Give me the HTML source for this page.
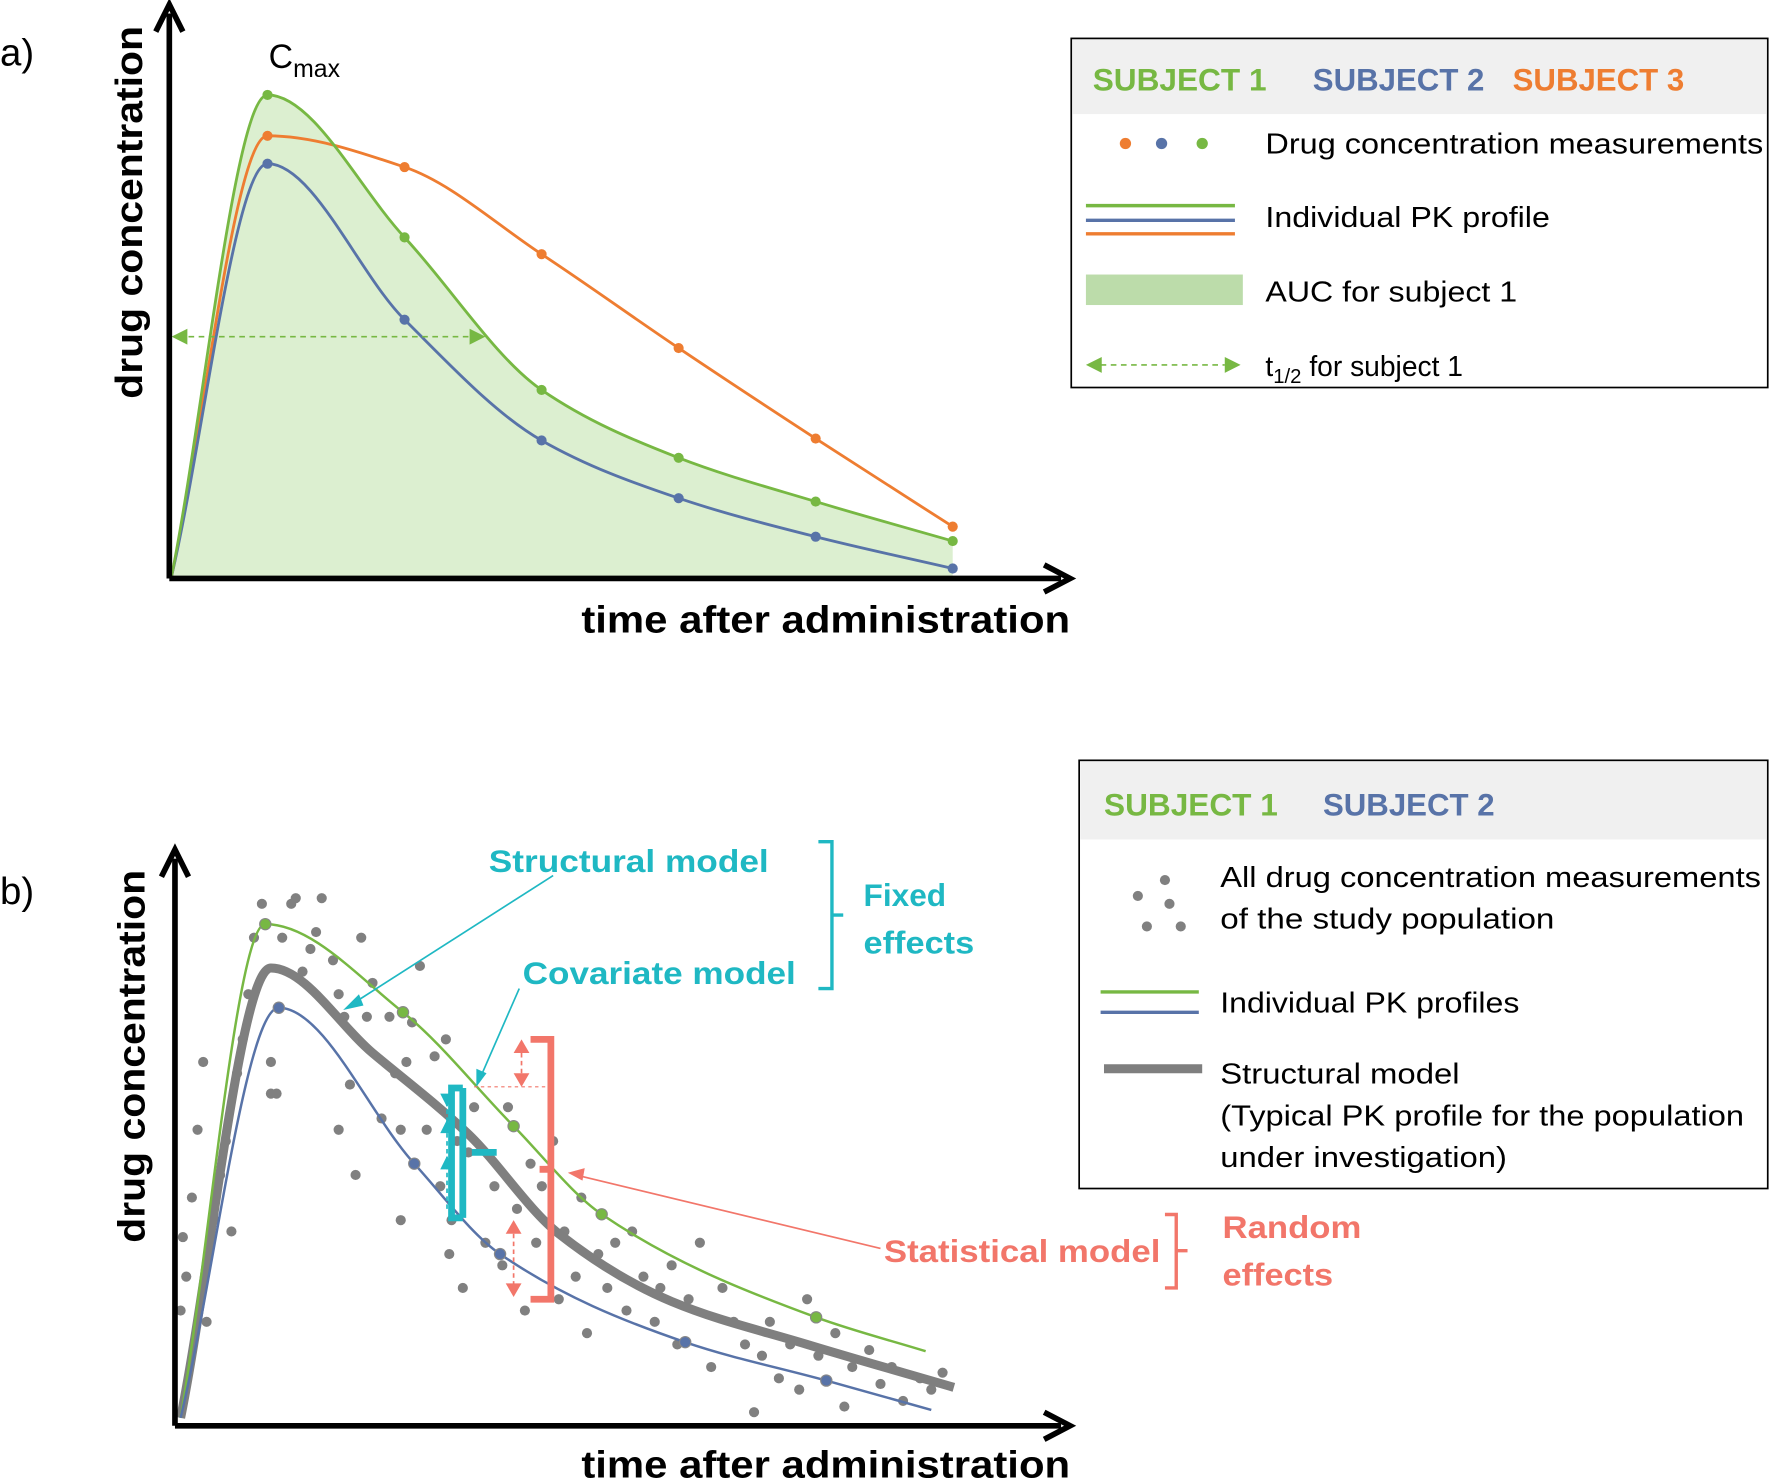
<!DOCTYPE html>
<html><head><meta charset="utf-8">
<style>
html,body{margin:0;padding:0;background:#fff;}
svg{display:block;}
text{font-family:"Liberation Sans",sans-serif;}
</style></head>
<body>
<svg id="fig" width="1770" height="1480" viewBox="0 0 1568 1310" preserveAspectRatio="none" xmlns="http://www.w3.org/2000/svg">
<g id="pa"></g>
<g id="pb"></g>
</svg>
<script>
// ---------- Panel a data ----------
const timesA = [0, 0.7, 1.7, 2.7, 3.7, 4.7, 5.7];
const subj1A = [0, 100, 70.4, 38.7, 24.6, 15.5, 7.3];
const subj2A = [0, 85.7, 53.3, 28.2, 16.2, 8.2, 1.6];
const subj3A = [0, 91.5, 85, 66.9, 47.4, 28.6, 10.3];
// ---------- Panel b data ----------
const subj1B = [[0.05,1.25],[0.8,110.5],[2.02,91],[3.0,65.8],[3.78,46.3],[5.68,23.5],[6.65,16]];
const subj2B = [[0.05,1.25],[0.92,92],[2.12,57.5],[2.88,37.5],[4.52,18],[5.77,9.5],[6.7,3]];
const typicalB = [[0.05,1.25],[0.85,100.8],[1.75,82],[2.6,64],[3.4,42],[4.4,27],[5.6,17.5],[6.9,8]];
const scatterB = [[160,1160],[165,1130],[162,1095],[170,1060],[175,1000],[180,940],[183,1170],[190,1080],[195,1040],[200,1010],[205,1090],[210,950],[215,920],[220,880],[225,830],[232,800],[240,940],[245,968],[250,830],[258,800],[262,795],[268,860],[275,840],[280,825],[285,795],[295,850],[300,880],[305,900],[310,960],[315,1040],[320,830],[325,900],[330,870],[338,990],[345,900],[350,950],[355,1000],[360,940],[365,905],[372,855],[378,1000],[385,935],[390,1050],[395,920],[400,1080],[405,1010],[410,1140],[415,1020],[420,980],[430,1100],[438,1050],[445,1120],[450,980],[458,1070],[465,1160],[470,1030],[475,1100],[480,1050],[490,1010],[495,1150],[500,1090],[510,1130],[515,1060],[520,1180],[530,1110],[538,1140],[545,1100],[555,1160],[560,1090],[570,1130],[580,1170],[585,1140],[595,1120],[600,1190],[610,1150],[620,1100],[630,1210],[640,1140],[650,1170],[660,1190],[668,1250],[675,1200],[682,1170],[690,1220],[700,1190],[708,1230],[715,1150],[725,1200],[740,1180],[748,1245],[755,1210],[770,1195],[780,1225],[790,1210],[800,1240],[815,1220],[825,1230],[835,1215],[240,968],[300,1000],[355,1080],[398,1110]];

const G='#77b843', B='#5873a8', O='#ee7d31', GR='#7f7f7f', CY='#1fb8c3', SA='#f2766a';
const NS='http://www.w3.org/2000/svg';
function el(p,tag,a,txt){const e=document.createElementNS(NS,tag);for(const k in a)e.setAttribute(k,a[k]);if(txt!==undefined)e.textContent=txt;p.appendChild(e);return e;}
const xA=t=>152+t*121.4, yA=c=>510-c*4.26;
const xB=t=>155+t*100, yB=c=>1260-c*4;
// monotone cubic interpolation (Fritsch-Carlson)
function smooth(pts){
  const n=pts.length, d=[], m=[];
  for(let i=0;i<n-1;i++) d.push((pts[i+1][1]-pts[i][1])/(pts[i+1][0]-pts[i][0]));
  m[0]=d[0]; m[n-1]=d[n-2];
  for(let i=1;i<n-1;i++){ if(d[i-1]*d[i]<=0) m[i]=0; else { const h0=pts[i][0]-pts[i-1][0],h1=pts[i+1][0]-pts[i][0]; const w1=2*h1+h0,w2=h1+2*h0; m[i]=(w1+w2)/(w1/d[i-1]+w2/d[i]); } }
  let s='M'+pts[0][0]+','+pts[0][1];
  for(let i=0;i<n-1;i++){const h=pts[i+1][0]-pts[i][0];
    s+=` C${pts[i][0]+h/3},${pts[i][1]+m[i]*h/3} ${pts[i+1][0]-h/3},${pts[i+1][1]-m[i+1]*h/3} ${pts[i+1][0]},${pts[i+1][1]}`;}
  return s;
}

const pa=document.getElementById('pa'), pb=document.getElementById('pb');
// Panel a
const g1=timesA.map((t,i)=>[xA(t),yA(subj1A[i])]);
const b1=timesA.map((t,i)=>[xA(t),yA(subj2A[i])]);
const o1=timesA.map((t,i)=>[xA(t),yA(subj3A[i])]);
let auc=el(pa,'path',{d:smooth(g1)+` L${g1[g1.length-1][0]},512 L152,512 Z`,fill:'#dcefd0',stroke:'none'});

[[o1,O,'subject3-line'],[b1,B,'subject2-line'],[g1,G,'subject1-line']].forEach(([pts,c,n])=>{
  const p=el(pa,'path',{d:smooth(pts),fill:'none',stroke:c,'stroke-width':2.5});
  
  pts.slice(1).forEach(q=>{const d=el(pa,'circle',{cx:q[0],cy:q[1],r:4.5,fill:c});
  });
});
el(pa,'line',{x1:158,y1:298,x2:424,y2:298,stroke:G,'stroke-width':1.5,'stroke-dasharray':'5,4'});
el(pa,'path',{d:'M152,298 L166,291 L166,305 Z',fill:G});
el(pa,'path',{d:'M430,298 L416,291 L416,305 Z',fill:G});
el(pa,'path',{d:'M150,512 V12 M150,512 H940',stroke:'#000','stroke-width':5,fill:'none'});
el(pa,'path',{d:'M138,28 L150,4 L162,28 M925,500 L948,512 L925,524',stroke:'#000','stroke-width':5,fill:'none'});
el(pa,'text',{x:0,y:58,'font-size':34},'a)');
let t=el(pa,'text',{x:238,y:60,'font-size':30});t.innerHTML='C<tspan font-size="22" dy="8">max</tspan>';
el(pa,'text',{x:515,y:560,'font-size':34,'font-weight':'bold',textLength:433,lengthAdjust:'spacingAndGlyphs'},'time after administration');
el(pa,'text',{x:0,y:0,'font-size':34,'font-weight':'bold','text-anchor':'middle',textLength:330,lengthAdjust:'spacingAndGlyphs',transform:'translate(126,188) rotate(-90)'},'drug concentration');
// legend a
el(pa,'rect',{x:949,y:34,width:617,height:309,fill:'#fff',stroke:'#000','stroke-width':1.5});
el(pa,'rect',{x:950,y:35,width:615,height:66,fill:'#f0f0f0'});
el(pa,'text',{x:968,y:80,'font-size':28,'font-weight':'bold',fill:G,textLength:154,lengthAdjust:'spacingAndGlyphs'},'SUBJECT 1');
el(pa,'text',{x:1163,y:80,'font-size':28,'font-weight':'bold',fill:B,textLength:152,lengthAdjust:'spacingAndGlyphs'},'SUBJECT 2');
el(pa,'text',{x:1340,y:80,'font-size':28,'font-weight':'bold',fill:O,textLength:152,lengthAdjust:'spacingAndGlyphs'},'SUBJECT 3');
[[997,O],[1029,B],[1065,G]].forEach(([x,c])=>el(pa,'circle',{cx:x,cy:127,r:5,fill:c}));
el(pa,'path',{d:'M962,182H1094',stroke:G,'stroke-width':3});
el(pa,'path',{d:'M962,195H1094',stroke:B,'stroke-width':3});
el(pa,'path',{d:'M962,207H1094',stroke:O,'stroke-width':3});
el(pa,'rect',{x:962,y:243,width:139,height:27,fill:'#bcdcaa'});
el(pa,'line',{x1:975,y1:323,x2:1085,y2:323,stroke:G,'stroke-width':1.5,'stroke-dasharray':'5,4'});
el(pa,'path',{d:'M962,323 L976,316 L976,330 Z M1099,323 L1085,316 L1085,330 Z',fill:G});
el(pa,'text',{x:1121,y:136,'font-size':25,textLength:441,lengthAdjust:'spacingAndGlyphs'},'Drug concentration measurements');
el(pa,'text',{x:1121,y:201,'font-size':25,textLength:252,lengthAdjust:'spacingAndGlyphs'},'Individual PK profile');
el(pa,'text',{x:1121,y:267,'font-size':25,textLength:223,lengthAdjust:'spacingAndGlyphs'},'AUC for subject 1');
t=el(pa,'text',{x:1121,y:333,'font-size':25});t.innerHTML='t<tspan font-size="18" dy="6">1/2</tspan><tspan dy="-6"> for subject 1</tspan>';

// Panel b
scatterB.forEach(p=>{const d=el(pb,'circle',{cx:p[0],cy:p[1],r:4.5,fill:'#808080'});
});
const mp=a=>a.map(p=>[xB(p[0]),yB(p[1])]);
let pg=el(pb,'path',{d:smooth(mp(typicalB)),fill:'none',stroke:GR,'stroke-width':8});

[[subj1B,G,'subject1-profile'],[subj2B,B,'subject2-profile']].forEach(([a,c,n])=>{
  const pts=mp(a);const p=el(pb,'path',{d:smooth(pts),fill:'none',stroke:c,'stroke-width':2.2});
  
  pts.slice(1,-1).forEach(q=>el(pb,'circle',{cx:q[0],cy:q[1],r:5,fill:c,stroke:'#888','stroke-width':1}));
});
el(pb,'path',{d:'M155,1262 V760 M155,1262 H940',stroke:'#000','stroke-width':5,fill:'none'});
el(pb,'path',{d:'M143,776 L155,752 L167,776 M925,1250 L948,1262 L925,1274',stroke:'#000','stroke-width':5,fill:'none'});
el(pb,'text',{x:0,y:800,'font-size':34},'b)');
el(pb,'text',{x:515,y:1308,'font-size':34,'font-weight':'bold',textLength:433,lengthAdjust:'spacingAndGlyphs'},'time after administration');
el(pb,'text',{x:0,y:0,'font-size':34,'font-weight':'bold','text-anchor':'middle',textLength:330,lengthAdjust:'spacingAndGlyphs',transform:'translate(128,935) rotate(-90)'},'drug concentration');
// annotations
el(pb,'text',{x:433,y:772,'font-size':28,'font-weight':'bold',fill:CY,textLength:248,lengthAdjust:'spacingAndGlyphs'},'Structural model');
el(pb,'text',{x:463,y:871,'font-size':28,'font-weight':'bold',fill:CY,textLength:242,lengthAdjust:'spacingAndGlyphs'},'Covariate model');
el(pb,'text',{x:765,y:802,'font-size':28,'font-weight':'bold',fill:CY},'Fixed');
el(pb,'text',{x:765,y:844,'font-size':28,'font-weight':'bold',fill:CY,textLength:98,lengthAdjust:'spacingAndGlyphs'},'effects');
el(pb,'path',{d:'M725,745 h12 v130 h-12 M737,810 h10',fill:'none',stroke:CY,'stroke-width':3});
el(pb,'line',{x1:490,y1:775,x2:310,y2:890,stroke:CY,'stroke-width':1.5});
el(pb,'path',{d:'M304,894 L318,880 L322,890 Z',fill:CY});
el(pb,'line',{x1:460,y1:875,x2:425,y2:955,stroke:CY,'stroke-width':1.5});
el(pb,'path',{d:'M422,962 L422,946 L431,950 Z',fill:CY});
el(pb,'path',{d:'M410,963 h-10 v115 h10 M410,963 v115 M418,1020 h22',fill:'none',stroke:CY,'stroke-width':6});
el(pb,'line',{x1:396,y1:975,x2:396,y2:1070,stroke:CY,'stroke-width':1.5,'stroke-dasharray':'4,3'});
el(pb,'path',{d:'M390,968 h12 l-6,12z M390,1003 h12 l-6,-12z M390,1035 h12 l-6,-12z',fill:CY});
el(pb,'path',{d:'M470,920 h18 v230 h-18 M488,1035 h-10',fill:'none',stroke:SA,'stroke-width':6});
el(pb,'line',{x1:462,y1:925,x2:462,y2:958,stroke:SA,'stroke-width':1.5,'stroke-dasharray':'4,3'});
el(pb,'line',{x1:455,y1:1085,x2:455,y2:1145,stroke:SA,'stroke-width':1.5,'stroke-dasharray':'4,3'});
el(pb,'line',{x1:420,y1:962,x2:490,y2:962,stroke:SA,'stroke-width':1,'stroke-dasharray':'3,3'});
el(pb,'path',{d:'M455,932 h14 l-7,-12z M455,950 h14 l-7,12z M448,1092 h14 l-7,-12z M448,1136 h14 l-7,12z',fill:SA});
el(pb,'line',{x1:780,y1:1105,x2:510,y2:1040,stroke:SA,'stroke-width':1.5});
el(pb,'path',{d:'M503,1038 L518,1034 L516,1045 Z',fill:SA});
el(pb,'text',{x:783,y:1117,'font-size':28,'font-weight':'bold',fill:SA,textLength:245,lengthAdjust:'spacingAndGlyphs'},'Statistical model');
el(pb,'path',{d:'M1032,1075 h10 v65 h-10 M1042,1107 h10',fill:'none',stroke:SA,'stroke-width':3});
el(pb,'text',{x:1083,y:1096,'font-size':28,'font-weight':'bold',fill:SA,textLength:123,lengthAdjust:'spacingAndGlyphs'},'Random');
el(pb,'text',{x:1083,y:1138,'font-size':28,'font-weight':'bold',fill:SA,textLength:98,lengthAdjust:'spacingAndGlyphs'},'effects');
// legend b
el(pb,'rect',{x:956,y:673,width:610,height:379,fill:'#fff',stroke:'#000','stroke-width':1.5});
el(pb,'rect',{x:957,y:674,width:608,height:69,fill:'#f0f0f0'});
el(pb,'text',{x:978,y:722,'font-size':28,'font-weight':'bold',fill:G,textLength:154,lengthAdjust:'spacingAndGlyphs'},'SUBJECT 1');
el(pb,'text',{x:1172,y:722,'font-size':28,'font-weight':'bold',fill:B,textLength:152,lengthAdjust:'spacingAndGlyphs'},'SUBJECT 2');
[[1032,779],[1008,793],[1036,800],[1016,820],[1046,820]].forEach(([x,y])=>el(pb,'circle',{cx:x,cy:y,r:4.5,fill:'#808080'}));
el(pb,'path',{d:'M975,878H1062',stroke:G,'stroke-width':3});
el(pb,'path',{d:'M975,896H1062',stroke:B,'stroke-width':3});
el(pb,'path',{d:'M978,946H1065',stroke:GR,'stroke-width':8});
[['All drug concentration measurements',785,479],['of the study population',822,296],['Individual PK profiles',896,265],['Structural model',959,212],['(Typical PK profile for the population',996,464],['under investigation)',1033,254]].forEach(([s,y,w])=>el(pb,'text',{x:1081,y:y,'font-size':25,textLength:w,lengthAdjust:'spacingAndGlyphs'},s));
</script>
</body></html>
